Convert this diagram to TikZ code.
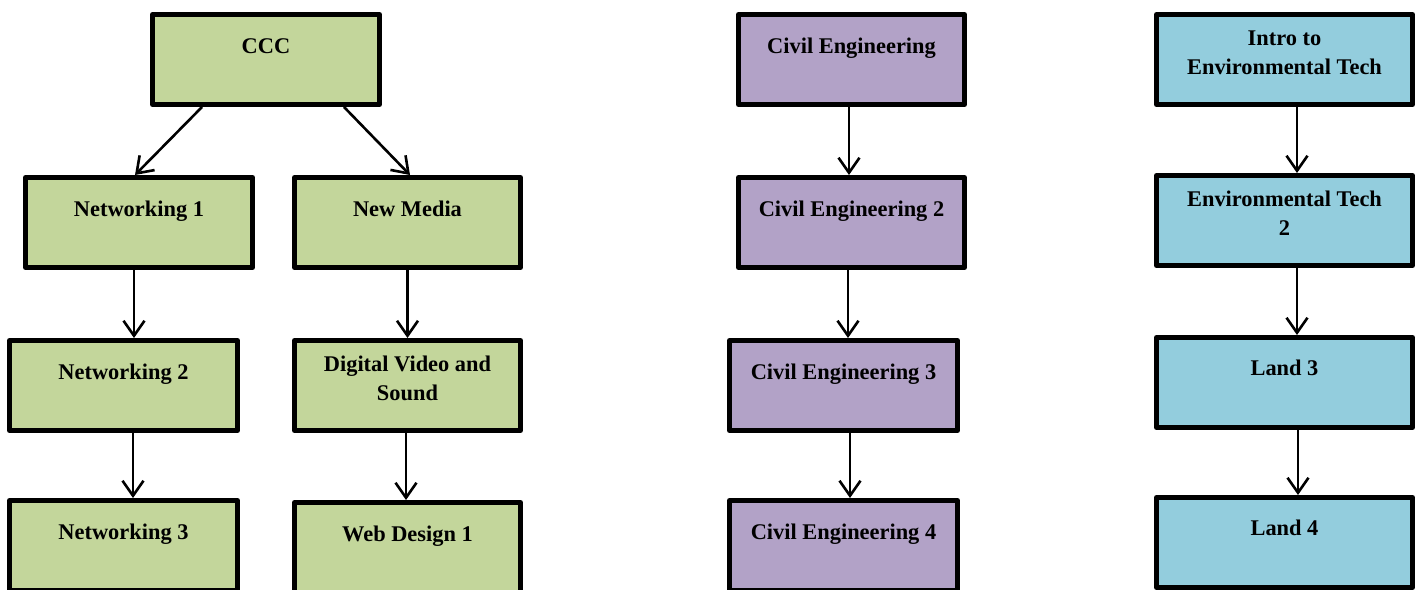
\documentclass[tikz,border=0pt]{standalone}
\usepackage{fontspec}
\setmainfont{Liberation Serif}
\usetikzlibrary{arrows.meta}
\definecolor{gfill}{HTML}{C3D69B}
\definecolor{pfill}{HTML}{B2A2C7}
\definecolor{bfill}{HTML}{93CDDD}
\newcommand\mkbox[6]{%
  \node[box,fill=#6,minimum width={(#4-#2)*1pt-5pt},minimum height={(#5-#3)*1pt-5pt}]
    (#1) at ({(#2+#4)/2},{(#3+#5)/2}) {};}
\begin{document}
\begin{tikzpicture}[x=1pt,y=-1pt,
  box/.style={draw=black,line width=5pt,line join=round,rectangle,inner sep=0pt},
  lbl/.style={font=\fontsize{22.4}{29.5}\selectfont\bfseries,inner sep=0pt,anchor=base,text=black},
  arr/.style={line width=2.6pt,-{Straight Barb[length=15pt,width=21pt]}}]
\useasboundingbox (0,0) rectangle (1418,589);
\clip (0,0) rectangle (1418,589);
% left column group
\mkbox{ccc}{150}{12}{382}{107}{gfill}
\mkbox{na}{23}{175}{255}{270}{gfill}
\mkbox{nm}{292}{175}{523}{270}{gfill}
\mkbox{nb}{7}{338}{240}{433}{gfill}
\mkbox{dv}{292}{338}{523}{433}{gfill}
\mkbox{nc}{7}{498}{240}{593}{gfill}
\mkbox{wd}{292}{500}{523}{595}{gfill}
% civil engineering
\mkbox{cea}{736}{12}{967}{107}{pfill}
\mkbox{ceb}{736}{175}{967}{270}{pfill}
\mkbox{cec}{727}{338}{960}{433}{pfill}
\mkbox{ced}{727}{498}{960}{593}{pfill}
% environmental
\mkbox{eta}{1154}{12}{1415}{107}{bfill}
\mkbox{etb}{1154}{173}{1415}{268}{bfill}
\mkbox{lc}{1154}{335}{1415}{430}{bfill}
\mkbox{ld}{1154}{495}{1415}{590}{bfill}
% labels
\node[lbl] (tccc) at ([yshift=-41pt]ccc.north) {CCC};
\node[lbl] (tna) at ([yshift=-41pt]na.north) {Networking 1};
\node[lbl] (tnm) at ([yshift=-41pt]nm.north) {New Media};
\node[lbl] (tnb) at ([yshift=-41pt]nb.north) {Networking 2};
\node[lbl] (tdv) at ([yshift=-33pt]dv.north) {\begin{tabular}[t]{@{}c@{}}Digital Video and\\Sound\end{tabular}};
\node[lbl] (tnc) at ([yshift=-41pt]nc.north) {Networking 3};
\node[lbl] (twd) at ([yshift=-41pt]wd.north) {Web Design 1};
\node[lbl] (tcea) at ([yshift=-41pt]cea.north) {Civil Engineering};
\node[lbl] (tceb) at ([yshift=-41pt]ceb.north) {Civil Engineering 2};
\node[lbl] (tcec) at ([yshift=-41pt]cec.north) {Civil Engineering 3};
\node[lbl] (tced) at ([yshift=-41pt]ced.north) {Civil Engineering 4};
\node[lbl] (teta) at ([yshift=-33pt]eta.north) {\begin{tabular}[t]{@{}c@{}}Intro to\\Environmental Tech\end{tabular}};
\node[lbl] (tetb) at ([yshift=-33pt]etb.north) {\begin{tabular}[t]{@{}c@{}}Environmental Tech\\2\end{tabular}};
\node[lbl] (tlc) at ([yshift=-40pt]lc.north) {Land 3};
\node[lbl] (tld) at ([yshift=-40pt]ld.north) {Land 4};
% connectors
\draw[arr] ([xshift=-64pt]ccc.south) -- ([xshift=-4pt]na.north);
\draw[arr] ([xshift=78pt]ccc.south) -- ([xshift=2.5pt]nm.north);
\draw[arr] ([xshift=-5pt]na.south) -- ([xshift=10.5pt]nb.north);
\draw[arr] ([xshift=9.5pt]nb.south) -- ([xshift=9.5pt]nc.north);
\draw[arr] (nm.south) -- (dv.north);
\draw[arr] ([xshift=-1.5pt]dv.south) -- ([xshift=-1.5pt]wd.north);
\draw[arr] ([xshift=-2.5pt]cea.south) -- ([xshift=-2.5pt]ceb.north);
\draw[arr] ([xshift=-3.5pt]ceb.south) -- ([xshift=4.5pt]cec.north);
\draw[arr] ([xshift=6.5pt]cec.south) -- ([xshift=6.5pt]ced.north);
\draw[arr] ([xshift=12.5pt]eta.south) -- ([xshift=12.5pt]etb.north);
\draw[arr] ([xshift=12.5pt]etb.south) -- ([xshift=12.5pt]lc.north);
\draw[arr] ([xshift=13.5pt]lc.south) -- ([xshift=13.5pt]ld.north);
\end{tikzpicture}
\end{document}
